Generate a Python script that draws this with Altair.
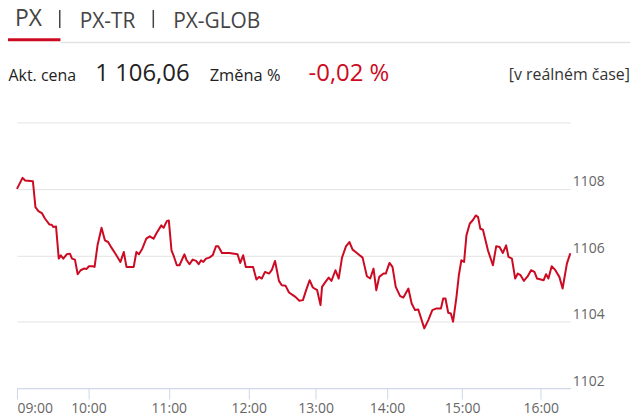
import altair as alt
import pandas as pd

# ---- data (minutes after 09:00, index value) ----
minutes = [0, 4.7, 6.9, 13.4, 15.5, 18.0, 20.9, 23.6, 27.2, 29.2, 30.6, 32.8, 35.1, 36.8, 38.9,
           41.8, 44.5, 46.2, 48.7, 51.0, 53.5, 56.2, 58.5, 60.4, 63.1, 64.6, 66.8, 69.8, 72.3,
           74.7, 77.2, 80.4, 83.9, 86.4, 88.4, 93.8, 95.8, 97.7, 100.2, 103.2, 105.7, 108.6,
           111.0, 114.4, 116.1, 118.5, 120.0, 122.0, 123.5, 126.0, 128.0, 131.7, 133.4, 135.5,
           137.9, 140.5, 142.4, 144.2, 145.9, 147.9, 150.4, 152.9, 155.4, 157.1, 159.9, 165.4,
           171.6, 173.6, 175.8, 177.8, 183.9, 186.9, 189.3, 191.7, 194.6, 198.2, 200.6, 203.6,
           207.1, 209.6, 213.1, 216.1, 219.6, 222.1, 225.4, 228.6, 231.5, 234.6, 237.5, 241.3,
           244.1, 245.4, 248.3, 251.0, 253.3, 256.7, 259.4, 262.2, 265.5, 268.4, 271.1, 274.7,
           279.5, 283.1, 285.9, 288.7, 291.0, 293.5, 297.1, 299.0, 302.0, 304.4, 307.0, 310.5,
           313.1, 317.1, 319.7, 322.4, 325.0, 329.8, 333.0, 336.2, 339.6, 343.1, 344.9, 346.7,
           348.9, 351.0, 352.8, 355.5, 357.4, 359.4, 361.5, 363.3, 365.8, 368.4, 370.4, 372.2,
           373.9, 375.9, 379.7, 383.5, 386.0, 388.6, 391.1, 393.6, 395.4, 398.0, 400.5, 402.5,
           404.6, 407.1, 410.1, 412.6, 415.2, 417.2, 422.0, 423.6, 425.2, 427.4, 429.6, 432.6,
           434.8, 437.7, 440.0]
prices = [1108.0, 1108.33, 1108.25, 1108.23, 1107.45, 1107.33, 1107.27, 1107.1, 1106.93, 1106.92,
          1106.85, 1106.87, 1105.9, 1106.0, 1105.9, 1106.03, 1106.05, 1105.9, 1105.87, 1105.43,
          1105.55, 1105.6, 1105.59, 1105.67, 1105.67, 1105.65, 1106.3, 1106.83, 1106.45, 1106.4,
          1106.23, 1106.03, 1105.8, 1106.1, 1105.65, 1105.65, 1106.1, 1106.03, 1106.2, 1106.5,
          1106.57, 1106.5, 1106.68, 1106.9, 1106.83, 1107.03, 1107.05, 1106.15, 1106.0, 1105.7,
          1105.7, 1106.03, 1105.85, 1105.73, 1105.87, 1105.83, 1105.73, 1105.85, 1105.8, 1105.9,
          1105.93, 1106.0, 1106.27, 1106.27, 1106.07, 1106.07, 1106.03, 1105.77, 1106.0, 1105.65,
          1105.65, 1105.27, 1105.35, 1105.3, 1105.5, 1105.45, 1105.55, 1105.83, 1105.23, 1105.1,
          1105.08, 1104.88, 1104.8, 1104.74, 1104.63, 1104.65, 1104.95, 1105.25, 1105.03, 1104.95,
          1104.5, 1105.05, 1105.2, 1105.33, 1105.23, 1105.55, 1105.3, 1105.93, 1106.27, 1106.4,
          1106.17, 1106.07, 1105.93, 1105.37, 1105.3, 1105.6, 1104.95, 1105.35, 1105.45, 1105.45,
          1105.77, 1105.65, 1105.05, 1104.77, 1104.73, 1105.0, 1104.55, 1104.35, 1104.37, 1103.8,
          1104.05, 1104.35, 1104.4, 1104.4, 1104.7, 1104.7, 1104.27, 1104.25, 1104.0, 1104.75,
          1105.4, 1105.85, 1105.8, 1106.6, 1106.95, 1107.07, 1107.2, 1107.15, 1106.8, 1106.77,
          1106.15, 1105.7, 1106.27, 1106.25, 1106.07, 1106.3, 1105.95, 1105.9, 1105.3, 1105.45,
          1105.4, 1105.23, 1105.37, 1105.55, 1105.5, 1105.3, 1105.25, 1105.43, 1105.3, 1105.67,
          1105.57, 1105.35, 1105.0, 1105.75, 1106.06]

tick_minutes = [0, 60, 120, 180, 240, 300, 360, 420]
tick_labels = ["09:00", "10:00", "11:00", "12:00", "13:00", "14:00", "15:00", "16:00"]
close_minute = 440
y_ticks = [1102, 1104, 1106, 1108, 1110]
y_labels = ["1102", "1104", "1106", "1108", ""]

tabs = ["PX", "PX-TR", "PX-GLOB"]
price_label = "Akt. cena"
price_now = "1 106,06"
change_label = "Změna %"
change_now = "-0,02 %"
realtime = "[v reálném čase]"

# ---- styling ----
RED = "#cc0a22"
FONT = "Open Sans"
W, H = 556, 267
# ordinal (trading-point) axis: hour breakpoints are not evenly spaced
x_range = [0, 71.8, 152.6, 232.9, 300.1, 371.8, 447.3, 526.3, 556]

df = pd.DataFrame({"m": minutes, "price": prices})

x_label_expr = "[" + ",".join(f"'{t}'" for t in tick_labels) + "][round(datum.value/60)]"
y_label_expr = "[" + ",".join(f"'{t}'" for t in y_labels) + "][round((datum.value-1102)/2)]"

line = alt.Chart(df).mark_line(color=RED, strokeWidth=2, strokeJoin="round").encode(
    x=alt.X("m:Q",
            scale=alt.Scale(domain=tick_minutes + [close_minute], range=x_range,
                            nice=False, zero=False),
            axis=alt.Axis(values=tick_minutes, labelExpr=x_label_expr, title=None,
                          grid=False, domainColor="#ccd6eb", domainWidth=1,
                          tickColor="#ccd6eb", tickSize=11, tickWidth=1,
                          labelFlush=True, labelPadding=2, labelFont=FONT,
                          labelFontSize=14, labelColor="#666666", labelOverlap=False)),
    y=alt.Y("price:Q",
            scale=alt.Scale(domain=[1102, 1110], nice=False, zero=False),
            axis=alt.Axis(orient="right", values=y_ticks, labelExpr=y_label_expr,
                          title=None, grid=True, gridColor="#e3e3e3", gridWidth=1,
                          domain=False, ticks=False, labelAlign="left",
                          labelBaseline="middle", labelOffset=-7, labelPadding=2,
                          labelFont=FONT, labelFontSize=14, labelColor="#666666")),
)


def txt(t, x, y, size, color="#333333", align="left"):
    return alt.Chart(alt.Data(values=[{"t": t}])).mark_text(
        align=align, baseline="alphabetic", font=FONT, fontSize=size, color=color
    ).encode(x=alt.value(x), y=alt.value(y), text="t:N")


def hrule(x1, x2, y, color, width):
    return alt.Chart(alt.Data(values=[{}])).mark_rule(color=color, strokeWidth=width).encode(
        x=alt.value(x1), x2=alt.value(x2), y=alt.value(y))


def vrule(x, y1, y2, color, width):
    return alt.Chart(alt.Data(values=[{}])).mark_rule(color=color, strokeWidth=width).encode(
        x=alt.value(x), y=alt.value(y1), y2=alt.value(y2))


header = [
    txt(tabs[0], -2, -96.5, 23, "#444444"),
    vrule(43, -113, -95, "#444444", 1.5),
    txt(tabs[1], 63, -95, 21, "#444444"),
    vrule(137, -113, -95, "#444444", 1.5),
    txt(tabs[2], 157, -95, 21, "#444444"),
    hrule(43.7, 616, -80.3, "#e3e3e3", 1.5),
    hrule(-9, 43.7, -83, RED, 3),
    txt(price_label, -8.5, -41.5, 16, "#222222"),
    txt(price_now, 78.7, -41.7, 24, "#222222"),
    txt(change_label, 193.7, -41.5, 16.5, "#222222"),
    txt(change_now, 293, -41.7, 24, RED),
    txt(realtime, 616, -43, 16, "#333333", align="right"),
]

chart = alt.layer(line, *header).properties(
    width=W, height=H,
    autosize=alt.AutoSizeParams(type="none"),
    padding={"left": 9, "top": 114, "right": 62, "bottom": 28},
).configure(background="white").configure_view(strokeWidth=0, stroke="transparent")

chart.save("out.html", embed_options={"renderer": "svg", "actions": False})
